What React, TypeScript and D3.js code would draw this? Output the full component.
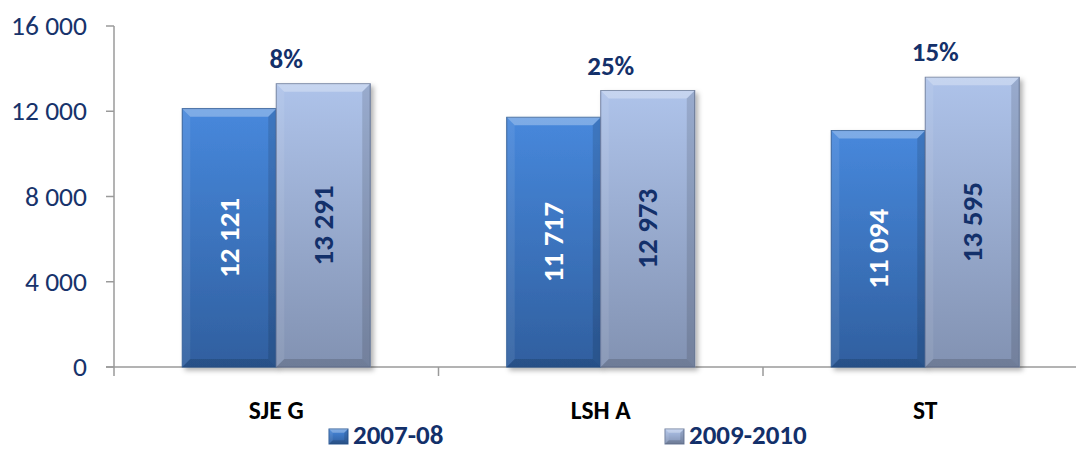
import React from "react";
import * as d3 from "d3";

const categories = ["SJE G", "LSH A", "ST"];
const seriesNames = ["2007-08", "2009-2010"];
const values2007 = [12121, 11717, 11094];
const values2009 = [13291, 12973, 13595];
const changeLabels = ["8%", "25%", "15%"];
const yTicks = [0, 4000, 8000, 12000, 16000];

const W = 1076;
const H = 450;
const FONT = "Carlito, Lato, 'Open Sans', sans-serif";
const NAVY = "#13306A";

const fmt = (v: number) => d3.format(",")(v).replace(/,/g, " ");

function Bar({ x, y, w, h, id, shadow }: { x: number; y: number; w: number; h: number; id: string; shadow: boolean }) {
  const b = Math.min(8, w / 4, h / 4);
  const stroke = id === "g0" ? "#2C5A96" : "#6E7E9E";
  return (
    <g filter={shadow ? "url(#shadow)" : undefined}>
      <rect x={x} y={y} width={w} height={h} fill={`url(#${id})`} stroke={stroke} strokeWidth={1} />
      <polygon points={`${x},${y} ${x + w},${y} ${x + w - b},${y + b} ${x + b},${y + b}`} fill="#fff" opacity={0.3} />
      <polygon points={`${x},${y} ${x + b},${y + b} ${x + b},${y + h - b} ${x},${y + h}`} fill="#fff" opacity={0.08} />
      <polygon points={`${x + w},${y} ${x + w},${y + h} ${x + w - b},${y + h - b} ${x + w - b},${y + b}`} fill="#000" opacity={0.12} />
      <polygon points={`${x},${y + h} ${x + b},${y + h - b} ${x + w - b},${y + h - b} ${x + w},${y + h}`} fill="#000" opacity={0.15} />
    </g>
  );
}

export default function App() {
  const x0 = d3.scaleBand<string>().domain(categories).range([114, 114 + 3 * 324.5]).paddingInner(0).paddingOuter(0);
  const x1 = d3.scaleBand<string>().domain(seriesNames).range([0, x0.bandwidth()]).paddingInner(0).paddingOuter(0.726);
  const y = d3.scaleLinear().domain([0, 16000]).range([367, 26]);
  const series = [values2007, values2009];
  const textColors = ["#ffffff", NAVY];

  return (
    <svg width={W} height={H} style={{ position: "absolute", left: 0, top: 0, background: "#fff" }}>
      <defs>
        <linearGradient id="g0" x1="0" y1="0" x2="0" y2="1">
          <stop offset="0" stopColor="#4788DC" />
          <stop offset="1" stopColor="#305F9F" />
        </linearGradient>
        <linearGradient id="g1" x1="0" y1="0" x2="0" y2="1">
          <stop offset="0" stopColor="#AEC3EA" />
          <stop offset="1" stopColor="#8292B2" />
        </linearGradient>
        <filter id="shadow" x="-10%" y="-10%" width="130%" height="130%">
          <feDropShadow dx="3" dy="3" stdDeviation="2.5" floodColor="#000" floodOpacity="0.3" />
        </filter>
      </defs>

      {/* axes */}
      <line x1={114} x2={114} y1={y(16000)} y2={376} stroke="#9A9A9A" strokeWidth={1.5} />
      <line x1={106} x2={W} y1={y(0)} y2={y(0)} stroke="#9A9A9A" strokeWidth={1.5} />
      {yTicks.map((t) => (
        <g key={t}>
          <line x1={106} x2={114} y1={y(t)} y2={y(t)} stroke="#9A9A9A" strokeWidth={1.5} />
          <text x={87} y={y(t)} dy="0.33em" textAnchor="end" fontFamily={FONT} fontSize={27.5} fill="#17336B">
            {fmt(t)}
          </text>
        </g>
      ))}
      {categories.slice(1).map((c) => (
        <line key={c} x1={x0(c)!} x2={x0(c)!} y1={y(0)} y2={376} stroke="#9A9A9A" strokeWidth={1.5} />
      ))}

      {/* bars */}
      {categories.map((c, i) => (
        <g key={c}>
          {series.map((vals, s) => {
            const bx = x0(c)! + x1(seriesNames[s])!;
            const bw = x1.bandwidth();
            const by = y(vals[i]);
            const bh = y(0) - by;
            return <Bar key={s} x={bx} y={by} w={bw} h={bh} id={`g${s}`} shadow={true} />;
          })}
          {series.map((vals, s) => {
            const cx = x0(c)! + x1(seriesNames[s])! + x1.bandwidth() / 2;
            const cy = (y(vals[i]) + y(0)) / 2;
            return (
              <text
                key={`t${s}`}
                transform={`translate(${cx},${cy}) rotate(-90)`}
                textAnchor="middle"
                dy="0.33em"
                fontFamily={FONT}
                fontWeight="bold"
                fontSize={29}
                fill={textColors[s]}
              >
                {fmt(vals[i])}
              </text>
            );
          })}
          <text
            x={x0(c)! + x0.bandwidth() / 2 + 10}
            y={y(values2009[i]) - 16}
            textAnchor="middle"
            fontFamily={FONT}
            fontWeight="bold"
            fontSize={27}
            fill={NAVY}
          >
            {changeLabels[i]}
          </text>
          <text
            x={x0(c)! + x0.bandwidth() / 2}
            y={419}
            textAnchor="middle"
            fontFamily={FONT}
            fontWeight="bold"
            fontSize={25.5}
            fill="#000"
          >
            {c}
          </text>
        </g>
      ))}

      {/* legend */}
      {seriesNames.map((n, s) => {
        const lx = [329, 665][s];
        return (
          <g key={n}>
            <Bar x={lx} y={429} w={19} h={15} id={`g${s}`} shadow={false} />
            <text x={lx + 24} y={444} fontFamily={FONT} fontWeight="bold" fontSize={27} fill={NAVY}>
              {n}
            </text>
          </g>
        );
      })}
    </svg>
  );
}
